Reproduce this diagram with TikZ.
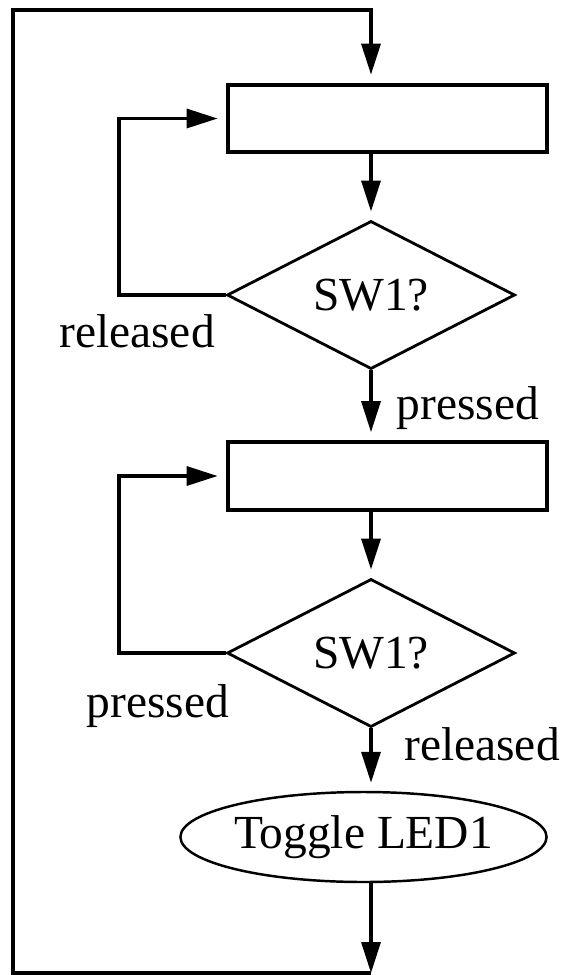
\documentclass[tikz,border=0pt]{standalone}
\usepackage{fontspec}
\setmainfont{Liberation Serif}
\usetikzlibrary{shapes.geometric,arrows.meta}

\tikzset{
  procbox/.style={draw,line width=2.4pt,minimum width=6.39cm,minimum height=1.35cm,inner sep=0pt},
  decision/.style={draw,diamond,line width=1.6pt,minimum width=5.76cm,minimum height=2.8cm,inner sep=0pt},
  terminal/.style={draw,ellipse,line width=1.4pt,minimum width=7.02cm,minimum height=1.8cm,inner sep=0pt},
  flow/.style={line width=1.9pt,-{Triangle[length=0.62cm,width=0.38cm]},shorten >=0.16cm},
}

\begin{document}
\begin{tikzpicture}[font=\fontsize{27}{30}\selectfont]
    \useasboundingbox (0,0) rectangle (11.26,-19.5);
    %
    \node[procbox] (wait1) at (7.75,-2.37) {};
    \node[decision] (sw1) at (7.42,-5.9) {SW1?};
    \node[procbox] (wait2) at (7.75,-9.52) {};
    \node[decision] (sw2) at (7.42,-13.06) {SW1?};
    \node[terminal] (toggle) at (7.27,-16.74) {Toggle LED1};
    \coordinate (top) at (7.42,-0.2);
    \coordinate (bot) at (7.42,-19.46);
    %
    \draw[flow] (wait1.south -| sw1) -- (sw1.north);
    \draw[flow] (sw1.west) -- (2.38,-5.9) |- (wait1.west);
    \draw[flow] (sw1.south) -- (sw1.south |- wait2.north);
    \node[anchor=base] (rel1) at (2.74,-6.95) {released};
    \node[anchor=base] (prs1) at (9.36,-8.38) {pressed};
    %
    \draw[flow] (wait2.south -| sw2) -- (sw2.north);
    \draw[flow] (sw2.west) -- (2.38,-13.06) |- (wait2.west);
    \draw[flow] (sw2.south) -- (sw2.south |- toggle.north);
    \node[anchor=base] (prs2) at (3.16,-14.34) {pressed};
    \node[anchor=base] (rel2) at (9.64,-15.2) {released};
    %
    \draw[flow,shorten >=0pt] (toggle.south -| bot) -- (bot);
    \draw[flow] (bot) -| (0.26,-0.2) -- (top) -- (top |- wait1.north);
\end{tikzpicture}
\end{document}
